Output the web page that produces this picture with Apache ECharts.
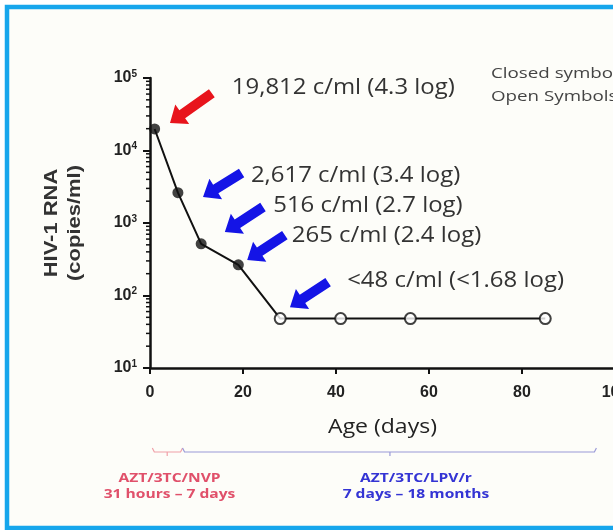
<!DOCTYPE html>
<html><head><meta charset="utf-8">
<script src="https://cdn.jsdelivr.net/npm/echarts@6/dist/echarts.min.js"></script>
<style>html,body{margin:0;padding:0;background:#fff;}#c{width:613px;height:530px;}</style>
</head><body><div id="c"></div>
<script>
// Data
const closedDays = [1, 6, 11, 19];
const closedRNA = [19812, 2617, 516, 265];
const openDays = [28, 41, 56, 85];
const openRNA = [48, 48, 48, 48];
const xTicks = [0, 20, 40, 60, 80, 100];
const yMinorTicks = [20,30,40,50,60,70,80,90,200,300,400,500,600,700,800,900,2000,3000,4000,5000,6000,7000,8000,9000,20000,30000,40000,50000,60000,70000,80000,90000];
const annotTexts = ['19,812 c/ml (4.3 log)', '2,617 c/ml (3.4 log)', '516 c/ml (2.7 log)', '265 c/ml (2.4 log)', '<48 c/ml (<1.68 log)'];
const annotAnchors = [[17.6, 72800], [21.7, 4450], [26.5, 1710], [30.5, 662], [42.4, 158]];
const arrowTails = [[13.3, 61700], [19.7, 4900], [24.3, 1660], [29.0, 682], [38.3, 153]];
const arrowHeads = [[4.3, 24000], [11.4, 2290], [16.1, 751], [20.9, 309], [30.1, 69]];
const arrowColors = ['#e8141c', '#1414e6', '#1414e6', '#1414e6', '#1414e6'];
const legendLines = ['Closed symbol', 'Open Symbols'];
const regimens = [
  {from: 0.5, to: 7, mid: 3.7, color: '#e0506a', line: '#f0a0a8', t1: 'AZT/3TC/NVP', t2: '31 hours \u2013 7 days', tx: 4.2},
  {from: 7, to: 96, mid: 51.6, color: '#3434d4', line: '#9a9ad8', t1: 'AZT/3TC/LPV/r', t2: '7 days \u2013 18 months', tx: 57.2}
];

const allPts = closedDays.map((d, i) => [d, closedRNA[i]]).concat(openDays.map((d, i) => [d, openRNA[i]]));

const chart = echarts.init(document.getElementById('c'));
chart.setOption({
  backgroundColor: '#ffffff',
  animation: false,
  grid: {left: 150, top: 78, right: -2, bottom: 162, containLabel: false, outerBoundsMode: 'none'},
  xAxis: {
    type: 'value', min: xTicks[0], max: xTicks[xTicks.length - 1], interval: 20,
    axisLine: {lineStyle: {color: '#111', width: 2.5}},
    axisTick: {inside: false, length: 6, lineStyle: {color: '#111', width: 2}},
    splitLine: {show: false},
    axisLabel: {margin: 17, fontFamily: 'Liberation Sans', fontWeight: 'bold', fontSize: 16, color: '#222'}
  },
  yAxis: {
    type: 'log', logBase: 10, min: 10, max: 100000,
    axisLine: {lineStyle: {color: '#111', width: 2.5}},
    axisTick: {length: 7, lineStyle: {color: '#111', width: 2}},
    splitLine: {show: false},
    axisLabel: {
      margin: 13,
      formatter: v => { const e = Math.round(Math.log10(v)); return '{b|10}{s|' + e + '}'; },
      rich: {
        b: {fontFamily: 'Liberation Sans', fontWeight: 'bold', fontSize: 16, color: '#222', lineHeight: 18},
        s: {fontFamily: 'Liberation Sans', fontWeight: 'bold', fontSize: 10, color: '#222', verticalAlign: 'top', lineHeight: 9}
      }
    }
  },
  series: [
    {type: 'custom', silent: true, data: yMinorTicks.map(v => [0, v]), z: 1,
      renderItem: (params, api) => {
        const p = api.coord([0, api.value(1)]);
        return {type: 'line', shape: {x1: p[0] - 4, y1: p[1], x2: p[0], y2: p[1]}, style: {stroke: '#111', lineWidth: 1.5}};
      }},
    {type: 'line', data: allPts, showSymbol: false, lineStyle: {color: '#111', width: 2}, z: 2},
    {type: 'scatter', data: closedDays.map((d, i) => [d, closedRNA[i]]), symbol: 'circle', symbolSize: 11,
      itemStyle: {color: '#111'}, z: 3},
    {type: 'scatter', data: openDays.map((d, i) => [d, openRNA[i]]), symbol: 'circle', symbolSize: 11,
      itemStyle: {color: '#fff', borderColor: '#111', borderWidth: 2}, z: 3}
  ]
});

function px(pt) { return chart.convertToPixel({gridIndex: 0}, pt); }
function arrowPoly(t, h) {
  const dx = h[0] - t[0], dy = h[1] - t[1], L = Math.hypot(dx, dy);
  const ux = dx / L, uy = dy / L, nx = -uy, ny = ux;
  const hl = 15, hw = 12, sw = 5;
  const b = [h[0] - ux * hl, h[1] - uy * hl];
  return [[t[0] + nx * sw, t[1] + ny * sw], [b[0] + nx * sw, b[1] + ny * sw], [b[0] + nx * hw, b[1] + ny * hw], h,
          [b[0] - nx * hw, b[1] - ny * hw], [b[0] - nx * sw, b[1] - ny * sw], [t[0] - nx * sw, t[1] - ny * sw]];
}

const g = [];
g.push({type: 'rect', z: -10, shape: {x: 7, y: 7, width: 700, height: 521}, style: {fill: '#fdfdf9', stroke: '#16a6ec', lineWidth: 4.5}});
arrowTails.forEach((t, i) => {
  g.push({type: 'polygon', z: 50, shape: {points: arrowPoly(px(t), px(arrowHeads[i]))}, style: {fill: arrowColors[i]}});
});
annotTexts.forEach((s, i) => {
  const p = px(annotAnchors[i]);
  g.push({type: 'text', z: 50, x: p[0], y: p[1], scaleX: 1.14, style: {text: s, fontFamily: 'Open Sans', fontSize: 21, fill: '#333', align: 'left', verticalAlign: 'middle'}});
});
legendLines.forEach((s, i) => {
  g.push({type: 'text', z: 50, x: 491, y: 74 + i * 23, scaleX: 1.25, style: {text: s, fontFamily: 'Open Sans', fontSize: 15, fill: '#444', align: 'left', verticalAlign: 'middle'}});
});
g.push({type: 'text', z: 50, x: 64, y: 223, rotation: Math.PI / 2, scaleX: 1.22,
  style: {text: 'HIV-1 RNA\n(copies/ml)', fontFamily: 'Liberation Sans', fontWeight: 'bold', fontSize: 18, lineHeight: 23, fill: '#333', align: 'center', verticalAlign: 'middle'}});
g.push({type: 'text', z: 50, x: px([50, 10])[0], y: 427, scaleX: 1.15,
  style: {text: 'Age (days)', fontFamily: 'Open Sans', fontSize: 20, fontWeight: 500, fill: '#222', align: 'center', verticalAlign: 'middle'}});
regimens.forEach(r => {
  const x1 = px([r.from, 10])[0], x2 = px([r.to, 10])[0], xm = px([r.mid, 10])[0], xt = px([r.tx, 10])[0];
  const y = 452;
  g.push({type: 'polyline', z: 50, shape: {points: [[x1, y - 4], [x1 + 2, y], [x2 - 2, y], [x2, y - 4]]}, style: {stroke: r.line, lineWidth: 1.2, fill: null}});
  g.push({type: 'line', z: 50, shape: {x1: xm, y1: y, x2: xm, y2: y + 4}, style: {stroke: r.line, lineWidth: 1.2}});
  g.push({type: 'text', z: 50, x: xt, y: 478, scaleX: 1.2, style: {text: r.t1, fontFamily: 'Open Sans', fontWeight: 'bold', fontSize: 13, fill: r.color, align: 'center', verticalAlign: 'middle'}});
  g.push({type: 'text', z: 50, x: xt, y: 494, scaleX: 1.2, style: {text: r.t2, fontFamily: 'Open Sans', fontWeight: 'bold', fontSize: 13, fill: r.color, align: 'center', verticalAlign: 'middle'}});
});
chart.setOption({graphic: {elements: g}});
</script></body></html>
